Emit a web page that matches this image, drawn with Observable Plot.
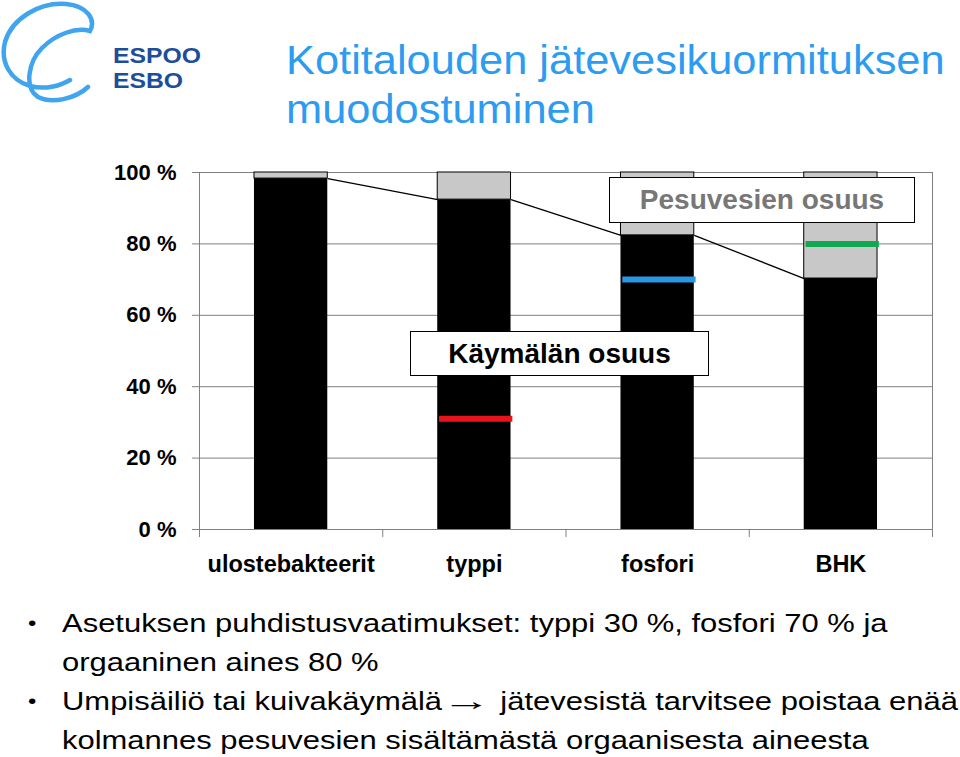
<!DOCTYPE html>
<html><head><meta charset="utf-8">
<script src="https://cdn.jsdelivr.net/npm/d3@7"></script>
<script src="https://cdn.jsdelivr.net/npm/@observablehq/plot@0.6"></script>
<style>
body{margin:0;background:#fff;font-family:"Liberation Sans",Arial,sans-serif;}
#page{position:relative;width:960px;height:757px;overflow:hidden;background:#fff;}
#logo{position:absolute;left:0;top:0;}
#title{position:absolute;left:286px;top:36px;font-size:40px;line-height:49px;color:#2d9cf0;white-space:nowrap;transform:scaleX(1.085);transform-origin:left top;}
#chart{position:absolute;left:0;top:150px;}
.box{position:absolute;box-sizing:border-box;border:1.5px solid #000;background:#fff;display:flex;align-items:center;justify-content:center;font-weight:bold;font-size:28px;white-space:nowrap;}
#box1{left:609px;top:177px;width:306px;height:46px;color:#777;}
#box2{left:410px;top:331px;width:299px;height:45px;color:#000;}
#notes{position:absolute;left:28px;top:604px;font-size:26px;line-height:39px;color:#000;white-space:nowrap;transform:scaleX(1.19);transform-origin:left top;}
#notes .item{position:relative;padding-left:28.6px;}
#notes .bullet{position:absolute;left:0;top:0;font-size:20px;}
#notes .arrow{font-size:26px;padding:0 5px 0 0;display:inline-block;transform:scaleX(1.6);transform-origin:left center;margin-right:18px;}
</style></head><body><div id="page">
<svg id="logo" width="215" height="110" viewBox="0 0 215 110">
  <path d="M 88 87 C 75 99 52 104 38 97 C 24 88 28 62 42 48 C 56 34 76 27 90 31 C 96 20 88 6 66 4 C 40 2 12 18 5 42 C 0 62 10 80 30 86 C 45 90 60 86 70 80" fill="none" stroke="#40a4ee" stroke-width="4.5" stroke-linecap="round"/>
  <text x="113" y="62.5" font-family="Liberation Sans, Arial, sans-serif" font-weight="bold" font-size="22.5" fill="#1c4e9c" textLength="88" lengthAdjust="spacingAndGlyphs">ESPOO</text>
  <text x="113" y="88" font-family="Liberation Sans, Arial, sans-serif" font-weight="bold" font-size="22.5" fill="#1c4e9c" textLength="70" lengthAdjust="spacingAndGlyphs">ESBO</text>
</svg>
<div id="title">Kotitalouden jätevesikuormituksen<br>muodostuminen</div>
<div id="chart"></div>
<div class="box" id="box1">Pesuvesien osuus</div>
<div class="box" id="box2">Käymälän osuus</div>
<div id="notes">
  <div class="item"><span class="bullet">•</span>Asetuksen puhdistusvaatimukset: typpi 30 %, fosfori 70 % ja<br>orgaaninen aines 80 %</div>
  <div class="item"><span class="bullet">•</span>Umpisäiliö tai kuivakäymälä<span class="arrow">→</span>jätevesistä tarvitsee poistaa enää<br>kolmannes pesuvesien sisältämästä orgaanisesta aineesta</div>
</div>
</div>
<script>
// Categories (x axis)
const categories = ["ulostebakteerit", "typpi", "fosfori", "BHK"];
// Käymälän osuus (%) – black part of each bar
const toiletShare = [98.3, 92.4, 82.4, 70.3];
// Pesuvesien osuus (%) – grey part of each bar
const washShare = [1.7, 7.6, 17.6, 29.7];
// Treatment requirement levels (%) drawn as coloured markers
const requirement = [null, 31, 70, 80];
const requirementColors = [null, "#e8141c", "#2a96e6", "#12a84f"];
// Y tick values
const yTicks = [0, 20, 40, 60, 80, 100];

const rows = categories.map((c, i) => ({i, c, toilet: toiletShare[i], wash: washShare[i]}));
const reqRows = categories.map((c, i) => ({i, v: requirement[i], color: requirementColors[i]})).filter(d => d.v != null);
const linkRows = rows.slice(0, -1).map(d => ({i: d.i, from: d.toilet, to: toiletShare[d.i + 1]}));
const half = 0.2;

const chart = Plot.plot({
  width: 960,
  height: 430,
  marginLeft: 199,
  marginRight: 28,
  marginTop: 22,
  marginBottom: 51,
  style: {fontFamily: "Liberation Sans, Arial, sans-serif", fontWeight: "bold", background: "transparent", color: "#000"},
  x: {domain: [-0.5, categories.length - 0.5], axis: null},
  y: {domain: [0, 100], axis: null},
  color: {type: "identity"},
  marks: [
    Plot.gridY(yTicks, {stroke: "#808080", strokeOpacity: 1, strokeWidth: 1}),
    Plot.frame({stroke: "#808080", strokeWidth: 1}),
    Plot.rect(rows, {x1: d => d.i - half, x2: d => d.i + half, y1: 0, y2: d => d.toilet, fill: "#000"}),
    Plot.rect(rows, {x1: d => d.i - half, x2: d => d.i + half, y1: d => d.toilet, y2: d => d.toilet + d.wash, fill: "#c8c8c8", stroke: "#000", strokeWidth: 1}),
    Plot.link(linkRows, {x1: d => d.i + half, y1: "from", x2: d => d.i + 1 - half, y2: "to", stroke: "#000", strokeWidth: 1.3}),
    Plot.ruleY(reqRows, {y: "v", x1: d => d.i - half + 0.01, x2: d => d.i + half + 0.01, stroke: "color", strokeWidth: 6}),
    Plot.axisY(yTicks, {tickFormat: d => d + " %", tickSize: 7, tickPadding: 16, stroke: "#808080", fill: "#000", fontSize: 22, fontWeight: "bold"}),
    Plot.axisX(d3.range(categories.length + 1).map(k => k - 0.5), {tickFormat: () => "", tickSize: 8, stroke: "#808080"}),
    Plot.axisX(d3.range(categories.length), {tickFormat: k => categories[k], tickSize: 0, tickPadding: 26, fill: "#000", fontSize: 23.5, fontWeight: "bold"})
  ]
});
document.getElementById("chart").appendChild(chart);
</script>
</body></html>
